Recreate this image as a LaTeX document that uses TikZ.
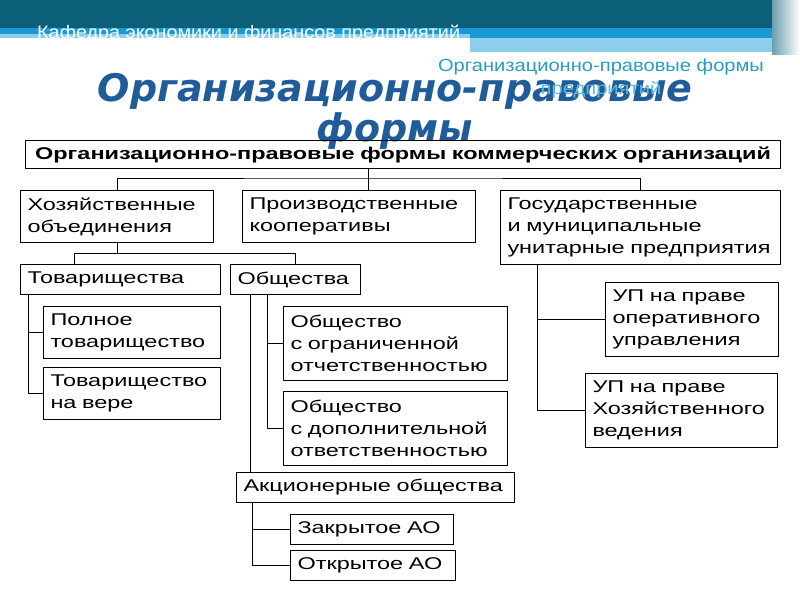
\documentclass[tikz,border=0pt]{standalone}
\usepackage{fontspec}
\setmainfont{Liberation Sans}[FakeStretch=1.38]
\newfontfamily\headfont{Liberation Sans}[FakeStretch=1.1]
\newfontfamily\subfont{Liberation Sans}[FakeStretch=1.15]
\newfontfamily\titlefont{DejaVu Sans}
\usetikzlibrary{positioning}

\definecolor{darkteal}{HTML}{0B5F78}
\definecolor{brightblue}{HTML}{1A9AD2}
\definecolor{lightblue}{HTML}{8CCFEA}
\definecolor{titleblue}{HTML}{1F5C99}
\definecolor{subone}{HTML}{2A9CC2}
\definecolor{subtwo}{HTML}{5EBBDD}

\tikzset{
  box/.style={draw, line width=1pt, anchor=north west, align=left, inner xsep=7pt, inner ysep=2pt,
              font=\fontsize{17}{22}\selectfont},
  headbox/.style={box, align=center, font=\bfseries\fontsize{17}{20}\selectfont},
  tie/.style={line width=1pt}
}

\begin{document}
\begin{tikzpicture}[x=1pt,y=-1pt]
\useasboundingbox (0,0) rectangle (800,600);

% header bands
\fill[darkteal] (0,0) rectangle (800,28);
\fill[brightblue] (0,28) rectangle (470,34);
\fill[lightblue] (0,34) rectangle (470,38);
\fill[brightblue] (470,28) rectangle (800,38);
\fill[lightblue] (470,38) rectangle (780,52);
\fill[left color=darkteal!60, right color=white] (772,0) rectangle (800,54);

\node[anchor=base west, text=white, font=\headfont\fontsize{18}{20}\selectfont, inner sep=0pt] (kaf) at (37,38)
  {Кафедра экономики и финансов предприятий};

% title
\node[align=center, text=titleblue, font=\titlefont\bfseries\itshape\fontsize{38}{40}\selectfont] (ttl) at (395,111)
  {Организационно-правовые\\формы};
\node[align=center, text=subone, font=\subfont\fontsize{17.5}{23}\selectfont] (sub) at (601,78)
  {Организационно-правовые формы\\\textcolor{subtwo}{предприятий}};

% boxes
\node[headbox, text width=741, minimum height=28] (top) at (25,140)
  {\mbox{Организационно-правовые формы коммерческих организаций}};

\node[box, text width=179, minimum height=52] (hoz) at (20,190) {Хозяйственные\\объединения};
\node[box, text width=219, minimum height=52] (coop) at (242,190) {Производственные\\кооперативы};
\node[box, text width=266, minimum height=74] (gos) at (500,190) {Государственные\\и~муниципальные\\унитарные~предприятия};

\node[box, text width=186, minimum height=30] (tov) at (20,264) {Товарищества};
\node[box, text width=116, minimum height=30] (obs) at (230,264) {Общества};

\node[box, text width=163, minimum height=52] (poln) at (43,306) {Полное\\товарищество};
\node[box, text width=163, minimum height=52] (vere) at (43,367) {Товарищество\\на~вере};

\node[box, text width=210, minimum height=74] (ooo) at (283,306) {Общество\\с~ограниченной\\отчетственностью};
\node[box, text width=210, minimum height=74] (odo) at (283,391) {Общество\\с~дополнительной\\ответственностью};

\node[box, text width=264, minimum height=30] (akc) at (236,472) {Акционерные~общества};
\node[box, text width=149, minimum height=30] (zao) at (290,514) {Закрытое~АО};
\node[box, text width=151, minimum height=30] (oao) at (290,550) {Открытое~АО};

\node[box, text width=159, minimum height=74] (upo) at (605,282) {УП~на~праве\\оперативного\\управления};
\node[box, text width=178, minimum height=74] (uph) at (585,373) {УП~на~праве\\Хозяйственного\\ведения};

% connectors
\coordinate (bus) at (368,178);
\draw[tie] (top.south -| bus) -- (bus);
\draw[tie] (hoz.north) |- (bus) -| (gos.north);
\draw[tie] (bus) -- (coop.north -| bus);

\draw[tie] (hoz.south) -- ++(0,10) coordinate (hb) -| ([xshift=54]tov.north west);
\draw[tie] (hb) -| (obs.north);

\draw[tie] ([xshift=8]tov.south west) |- (poln.west);
\draw[tie] ([xshift=8]tov.south west) |- (vere.west);

\draw[tie] ([xshift=37]obs.south west) |- (ooo.west);
\draw[tie] ([xshift=37]obs.south west) |- (odo.west);
\draw[tie] ([xshift=20]obs.south west) coordinate (ob) -- (ob |- akc.north);

\draw[tie] ([xshift=16]akc.south west) |- (zao.west);
\draw[tie] ([xshift=16]akc.south west) |- (oao.west);

\draw[tie] ([xshift=37]gos.south west) |- (upo.west);
\draw[tie] ([xshift=37]gos.south west) |- (uph.west);
\end{tikzpicture}
\end{document}
